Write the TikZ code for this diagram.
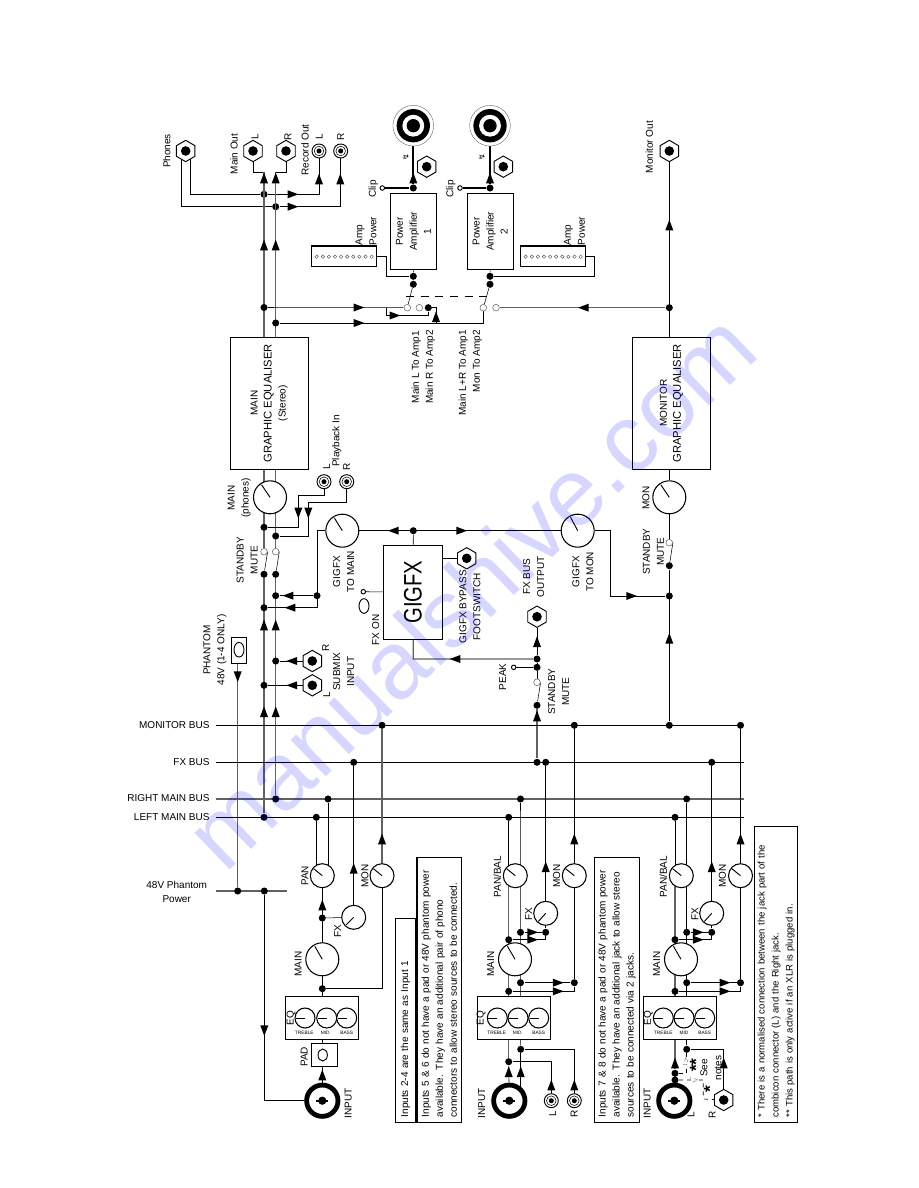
\documentclass[tikz,border=0pt]{standalone}
\usepackage{fontspec}
\setmainfont{Liberation Sans}
\newfontfamily\symfont{DejaVu Sans}
\usetikzlibrary{shapes.geometric,backgrounds,calc}

\tikzset{
    lbl/.style={rotate=90, align=center, inner sep=0},
    hlbl/.style={align=center, inner sep=0},
    bx/.style={rectangle, draw, fill=white, align=center, inner sep=0, line width=.8pt},
    rbx/.style={bx, rotate=90},
    notebox/.style={rotate=90, draw, align=left, inner xsep=3.75pt, inner ysep=0, line width=.8pt},
    dot/.style={circle, fill=black, inner sep=0, minimum size=5.3pt},
    opn/.style={circle, draw=black!60, fill=white, line width=.4pt, inner sep=0, minimum size=5pt},
    pinh/.style={circle, draw, fill=white, inner sep=0, minimum size=3.4pt},
    led/.style={circle, draw=black!70, line width=.3pt, fill=white, inner sep=0, minimum size=2.6pt},
    oval/.style={ellipse, draw, inner sep=0, minimum width=7.5pt, minimum height=11pt},
    knob/.style 2 args={circle, draw, fill=white, inner sep=0, minimum size=#1, line width=.8pt,
        path picture={\draw[line width=.7pt] (path picture bounding box.center) -- +(#2:.46*#1);}},
    bigknob/.style={knob={24.75pt}{#1}},
    midknob/.style={knob={18pt}{#1}},
    eqknob/.style={knob={15pt}{180}},
    jack/.style={regular polygon, regular polygon sides=6, shape border rotate=30, draw, fill=white,
        inner sep=0, minimum size=16pt, line width=.7pt,
        path picture={\fill[black] (path picture bounding box.center) circle (3.6pt);}},
    phono/.style={circle, draw, fill=white, inner sep=0, minimum size=10.5pt, line width=.7pt,
        path picture={\draw[line width=.4pt] (path picture bounding box.center) circle (3.6pt);
            \fill[black] (path picture bounding box.center) circle (1.9pt);}},
    combi/.style={circle, draw, fill=white, inner sep=0, minimum size=23.5pt, line width=3.6pt,
        path picture={\fill[black] (path picture bounding box.center) circle (3.1pt);
            \fill[black] ($(path picture bounding box.center)+(-4.6pt,-.9pt)$) rectangle ++(9.2pt,1.8pt);}},
    speakon/.style={circle, draw=black!60, fill=white, inner sep=0, minimum size=30.5pt, line width=.3pt,
        path picture={\fill[black] (path picture bounding box.center) circle (12.5pt);
            \fill[white] (path picture bounding box.center) circle (8.2pt);
            \fill[black] (path picture bounding box.center) circle (5pt);}},
    bus/.style={draw=black!62, line width=1.1pt},
    heavy/.style={line width=1.5pt},
    tip/.pic={\fill (4pt,0pt) -- (-4pt,3pt) -- (-4pt,-3pt) -- cycle;},
    tri/.style={isosceles triangle, isosceles triangle apex angle=40, draw=black!50, dashed, fill=white,
        line width=.4pt, inner sep=1.2pt}
}

\begin{document}
\begin{tikzpicture}[x=.75pt, y=-.75pt, line width=.7pt, font=\fontsize{7.5}{10.5}\selectfont]
    \useasboundingbox (0,0) rectangle (918,1188);

    % outputs
    \node [jack] (phones) at (185.7,151) {};
    \node [jack] (mainoutl) at (253,151) {};
    \node [jack] (mainoutr) at (286,151) {};
    \node [phono] (recl) at (319,151) {};
    \node [phono] (recr) at (340.7,151) {};
    \node [jack] (monout) at (669.3,151) {};
    \node [lbl] (tphones) at (166.7,151) {Phones};
    \node [lbl] (tmainout) at (234,154) {Main Out};
    \node [lbl] (tmoutl) at (255,137) {L};
    \node [lbl] (tmoutr) at (288,137) {R};
    \node [lbl] (trecord) at (305,150) {Record Out};
    \node [lbl] (trecl) at (319.3,137) {L};
    \node [lbl] (trecr) at (340.7,137) {R};
    \node [lbl] (tmonout) at (649.3,147) {Monitor Out};

    % power amplifiers
    \node [rbx, minimum width=57pt, minimum height=34.8pt] (amp1) at (413.5,231.3) {Power\\Amplifier\\1};
    \node [rbx, minimum width=57pt, minimum height=34.8pt] (amp2) at (490.3,231.3) {Power\\Amplifier\\2};
    \node [speakon] (spk1) at (413.3,125.7) {};
    \node [speakon] (spk2) at (490,125.7) {};
    \node [jack] (spj1) at (426.7,166.7) {};
    \node [jack] (spj2) at (503.3,166.7) {};
    \node [lbl, font=\symfont\fontsize{6}{6}\selectfont] (bolt1) at (405.7,157) {↯};
    \node [lbl, font=\symfont\fontsize{6}{6}\selectfont] (bolt2) at (481.7,157) {↯};
    \node [dot] (ampd1) at (413.3,188) {};
    \node [dot] (ampd2) at (490,188) {};
    \node [pinh] (clip1) at (382.3,188) {};
    \node [pinh] (clip2) at (460,188) {};
    \node [lbl] (tclip1) at (373.3,189) {Clip};
    \node [lbl] (tclip2) at (450.7,189) {Clip};
    \node [dot] (ampf1) at (413.3,276.3) {};
    \node [dot] (ampf2) at (490,276.3) {};
    \node [dot] (ampg1) at (413.3,284.3) {};
    \node [dot] (ampg2) at (490,284.3) {};
    \node [bx, minimum width=48.75pt, minimum height=15.5pt] (pow1) at (344.2,256.3) {};
    \node [bx, minimum width=48.75pt, minimum height=15.5pt] (pow2) at (553.2,256.3) {};
    \foreach \i in {0,...,9} {
        \node [led] (led1\i) at ({316.7+\i*6.1},256.7) {};
        \node [led] (led2\i) at ({525.7+\i*6.1},256.7) {};
    }
    \node [lbl, align=left] (tpow1) at (366,231) {Amp\\Power};
    \node [lbl, align=left] (tpow2) at (574.5,231) {Amp\\Power};
    \node [opn] (opa1) at (407.3,307.7) {};
    \node [opn] (opa2) at (419.3,307.7) {};
    \node [opn] (opb1) at (483.3,307.7) {};
    \node [opn] (opb2) at (496,307.7) {};
    \node [dot] (ampr) at (428.3,307.7) {};
    \node [lbl] (trout1) at (423.3,367) {Main L To Amp1\\Main R To Amp2};
    \node [lbl, align=right] (trout2) at (470.3,373) {Main L+R To Amp1\\Mon To Amp2};

    % graphic equalisers
    \node [rbx, minimum width=99.2pt, minimum height=58.5pt] (maineq) at (269.3,403.2)
        {MAIN\\{\fontsize{8.4}{10.5}\selectfont GRAPHIC EQUALISER}\\(Stereo)};
    \node [rbx, minimum width=99.2pt, minimum height=58.2pt] (moneq) at (671.5,403.2)
        {MONITOR\\{\fontsize{8.4}{10.5}\selectfont GRAPHIC EQUALISER}};

    % main strip
    \node [bigknob=124] (maink) at (270,497.3) {};
    \node [lbl] (tmaink) at (239.2,498) {MAIN\\(phones)};
    \node [phono] (pbl) at (324,481.7) {};
    \node [phono] (pbr) at (346.7,481.7) {};
    \node [lbl] (tpbl) at (326.7,467) {L};
    \node [lbl] (tpbr) at (346.7,467) {R};
    \node [lbl] (tpb) at (336.7,441) {Playback In};
    \node [dot] (lbm) at (264,527.3) {};
    \node [dot] (rbm) at (275.7,536) {};
    \node [opn] (swlo) at (264,551.7) {};
    \node [opn] (swro) at (275.7,551.7) {};
    \node [dot] (swld) at (264,574.3) {};
    \node [dot] (swrd) at (275.7,574.3) {};
    \node [lbl] (tsw) at (247.2,560) {STANDBY\\MUTE};
    \node [dot] (rbi) at (275.7,595.7) {};
    \node [dot] (lbi) at (264,607.7) {};
    \node [dot] (gd) at (317,595.7) {};
    \node [dot] (rbs) at (275.7,661) {};
    \node [dot] (lbs) at (264,685.3) {};
    \node [jack] (subr) at (312.3,661) {};
    \node [jack] (subl) at (312.3,685.3) {};
    \node [lbl] (tsubr) at (325.7,648) {R};
    \node [lbl] (tsubl) at (326.7,695) {L};
    \node [lbl] (tsub) at (343.7,671.7) {SUBMIX\\INPUT};
    \node [rbx, minimum width=19.5pt, minimum height=11.25pt] (phbox) at (239.2,650.3) {};
    \node [oval, rotate=0] (phled) at (239,649.7) {};
    \node [lbl] (tph) at (215,650) {PHANTOM\\48V (1-4 ONLY)};

    % gigfx
    \node [rbx, minimum width=70.7pt, minimum height=44.55pt] (gigfx) at (413,592.2)
        {\fontsize{19}{19}\selectfont\scalebox{.8}[1]{GIGFX}};
    \node [bigknob=122] (gmain) at (342.3,530.7) {};
    \node [bigknob=118] (gmon) at (577.7,530.7) {};
    \node [lbl] (tgmain) at (343.7,571.7) {GIGFX\\TO MAIN};
    \node [lbl] (tgmon) at (582.8,571.7) {GIGFX\\TO MON};
    \node [dot] (gt) at (413.3,530.7) {};
    \node [pinh] (fxon) at (363.3,591.7) {};
    \node [oval] (fxled) at (364,606) {};
    \node [lbl] (tfxon) at (375.7,630) {FX ON};
    \node [jack] (foot) at (466.7,558.3) {};
    \node [lbl] (tfoot) at (470,606.7) {GIGFX BYPASS\\FOOTSWITCH};
    \node [jack] (fxout) at (537,616.7) {};
    \node [lbl] (tfxout) at (533.7,576.7) {FX BUS\\OUTPUT};
    \node [dot] (fxd) at (537,659) {};
    \node [dot] (pk) at (537,667.3) {};
    \node [pinh] (pkpin) at (513.7,667.3) {};
    \node [lbl] (tpk) at (502.7,676.7) {PEAK};
    \node [opn] (fxo) at (537,682.3) {};
    \node [dot] (fxsw) at (537,705.3) {};
    \node [lbl] (tfxsw) at (558.7,691.7) {STANDBY\\MUTE};

    % monitor strip
    \node [bigknob=124] (monk) at (669.3,497.3) {};
    \node [lbl] (tmonk) at (646,497.7) {MON};
    \node [opn] (mono) at (669.3,542.7) {};
    \node [dot] (monsw) at (669.3,565.7) {};
    \node [lbl] (tmonsw) at (653.3,551.7) {STANDBY\\MUTE};
    \node [dot] (monj) at (669.3,596) {};
    \node [dot] (mond) at (669.3,307.7) {};

    % buses
    \coordinate (mbs) at (215.7,725.3);
    \coordinate (mbe) at (744,725.3);
    \coordinate (fbs) at (215.7,762.3);
    \coordinate (fbe) at (744,762.3);
    \coordinate (rbs2) at (215.7,799);
    \coordinate (rbe) at (744,799);
    \coordinate (lbs2) at (215.7,817.3);
    \coordinate (lbe) at (744,817.3);
    \node [hlbl, anchor=east] (tmb) at (210,725.3) {MONITOR BUS};
    \node [hlbl, anchor=east] (tfb) at (210,762.3) {FX BUS};
    \node [hlbl, anchor=east] (trb) at (210,798.3) {RIGHT MAIN BUS};
    \node [hlbl, anchor=east] (tlb) at (210,817) {LEFT MAIN BUS};
    \node [dot] (mb1) at (382,725.3) {};
    \node [dot] (mb2) at (574.3,725.3) {};
    \node [dot] (mb3) at (669.3,725.3) {};
    \node [dot] (mb4) at (740.5,725.3) {};
    \node [dot] (fb1) at (353.7,762.3) {};
    \node [dot] (fb2) at (537,762.3) {};
    \node [dot] (fb3) at (545.7,762.3) {};
    \node [dot] (fb4) at (711.7,762.3) {};
    \node [dot] (rb0) at (275.7,799) {};
    \node [dot] (rc1) at (328,799) {};
    \node [dot] (rc2) at (520.5,799) {};
    \node [dot] (rc3) at (686.7,799) {};
    \node [dot] (lb0) at (264,817.3) {};
    \node [dot] (lc1) at (316.3,817.3) {};
    \node [dot] (lc2) at (508.7,817.3) {};
    \node [dot] (lc3) at (675,817.3) {};
    \node [hlbl] (tphan) at (176.7,891.7) {48V Phantom\\Power};
    \coordinate (phs) at (215.7,891);
    \coordinate (phe) at (286.7,891);
    \node [dot] (ph1) at (237.7,891) {};
    \node [dot] (ph2) at (264.3,891) {};

    % input 1
    \node [midknob=141] (pan1) at (322.3,875.7) {};
    \node [lbl] (tpan1) at (305,876) {PAN};
    \node [midknob=141] (mon1) at (382,875.7) {};
    \node [lbl] (tmon1) at (365,876) {MON};
    \node [midknob=225] (fx1) at (353.7,917.3) {};
    \node [lbl] (tfx1) at (337.7,931) {FX};
    \node [dot] (fd1) at (322.3,918) {};
    \node [bigknob=120] (main1) at (322.3,959.3) {};
    \node [lbl] (tmain1) at (298.3,964) {MAIN};
    \node [dot] (md1) at (322.3,988.7) {};
    \node [bx, minimum width=54.5pt, minimum height=32pt] (eq1) at (322,1018) {};
    \node [eqknob] (tr1) at (305,1018) {};
    \node [eqknob] (mi1) at (326.7,1018) {};
    \node [eqknob] (ba1) at (346.7,1018) {};
    \node [lbl] (teq1) at (291,1018) {EQ};
    \node [hlbl, font=\fontsize{3.6}{4}\selectfont] (ttr1) at (304.3,1033.3) {TREBLE};
    \node [hlbl, font=\fontsize{3.6}{4}\selectfont] (tmi1) at (325.3,1033.3) {MID};
    \node [hlbl, font=\fontsize{3.6}{4}\selectfont] (tba1) at (346.7,1033.3) {BASS};
    \node [bx, minimum width=19.2pt, minimum height=17pt] (pad1) at (324.5,1054.7) {};
    \node [oval, minimum width=7pt, minimum height=9pt] (padled) at (322.7,1055) {};
    \node [lbl] (tpad1) at (304.3,1057) {PAD};
    \node [combi] (input1) at (322.3,1100.7) {};
    \node [lbl] (tinput1) at (348.3,1103) {INPUT};

    % notes
    \node [notebox, minimum height=15.3pt, text width=145.2pt] (note1) at (405.5,1020.5)
        {Inputs 2-4 are the same as Input 1};
    \node [notebox, minimum height=33.5pt, text width=191.25pt] (note2) at (439.3,989.8)
        {Inputs 5 \& 6 do not have a pad or 48V phantom power\\available. They have an additional pair of phono\\connectors to allow stereo sources to be connected.};
    \node [notebox, minimum height=33.5pt, text width=191.25pt] (note3) at (617,989.8)
        {Inputs 7 \& 8 do not have a pad or 48V phantom power\\available. They have an additional jack to allow stereo\\sources to be connected via 2 jacks.};
    \node [notebox, minimum height=32.25pt, text width=214.2pt, font=\fontsize{7.15}{10.5}\selectfont] (note4) at (776.2,974.5)
        {* There is a normalised connection between the jack part of the\\combicon connector (L) and the Right jack.\\{}** This path is only active if an XLR is plugged in.};

    % inputs 5 and 6
    \node [midknob=141] (pan2) at (515.3,875.7) {};
    \node [lbl] (tpan2) at (497.3,876.7) {PAN/BAL};
    \node [midknob=141] (mon2) at (574.3,875.7) {};
    \node [lbl] (tmon2) at (556.7,876) {MON};
    \node [midknob=228] (fx2) at (545.7,913.3) {};
    \node [lbl] (tfx2) at (528.7,914.3) {FX};
    \node [dot] (fd2) at (545.7,932.3) {};
    \node [dot] (r2f) at (520.5,932.3) {};
    \node [dot] (l2f) at (508.7,939.7) {};
    \node [bigknob=120] (main2) at (515,959.3) {};
    \node [lbl] (tmain2) at (490.7,964) {MAIN};
    \node [dot] (r2m) at (520.5,982.7) {};
    \node [dot] (md2) at (574.3,982.7) {};
    \node [dot] (l2m) at (508.7,991.3) {};
    \node [bx, minimum width=54.5pt, minimum height=32pt] (eq2) at (513.8,1018) {};
    \node [eqknob] (tr2) at (497.3,1018) {};
    \node [eqknob] (mi2) at (518,1018) {};
    \node [eqknob] (ba2) at (538.7,1018) {};
    \node [lbl] (teq2) at (481,1018) {EQ};
    \node [hlbl, font=\fontsize{3.6}{4}\selectfont] (ttr2) at (496.7,1033.3) {TREBLE};
    \node [hlbl, font=\fontsize{3.6}{4}\selectfont] (tmi2) at (517.3,1033.3) {MID};
    \node [hlbl, font=\fontsize{3.6}{4}\selectfont] (tba2) at (538.7,1033.3) {BASS};
    \node [dot] (r2i) at (520.7,1049.3) {};
    \node [dot] (l2i) at (508.7,1061.7) {};
    \coordinate (r2x) at (520.7,1087);
    \node [combi] (input2) at (509.3,1100.7) {};
    \node [lbl] (tinput2) at (481.7,1103) {INPUT};
    \node [phono] (phl2) at (551.3,1100.7) {};
    \node [phono] (phr2) at (574.3,1100.7) {};
    \node [lbl] (tphl2) at (552.7,1114) {L};
    \node [lbl] (tphr2) at (574.3,1114) {R};

    % inputs 7 and 8
    \node [midknob=141] (pan3) at (681.3,875.7) {};
    \node [lbl] (tpan3) at (663.3,876.7) {PAN/BAL};
    \node [midknob=141] (mon3) at (740.5,875.7) {};
    \node [lbl] (tmon3) at (722.3,876) {MON};
    \node [midknob=228] (fx3) at (711.7,913.3) {};
    \node [lbl] (tfx3) at (695,914.3) {FX};
    \node [dot] (fd3) at (711.7,932.3) {};
    \node [dot] (r3f) at (686.7,932.3) {};
    \node [dot] (l3f) at (675,939.7) {};
    \node [bigknob=120] (main3) at (681,959.3) {};
    \node [lbl] (tmain3) at (656.7,964) {MAIN};
    \node [dot] (r3m) at (686.7,982.7) {};
    \node [dot] (md3) at (740.5,982.7) {};
    \node [dot] (l3m) at (675,991.3) {};
    \node [bx, minimum width=54.5pt, minimum height=32pt] (eq3) at (679.8,1018) {};
    \node [eqknob] (tr3) at (663.3,1018) {};
    \node [eqknob] (mi3) at (684,1018) {};
    \node [eqknob] (ba3) at (704.7,1018) {};
    \node [lbl] (teq3) at (648.3,1018) {EQ};
    \node [hlbl, font=\fontsize{3.6}{4}\selectfont] (ttr3) at (663.3,1033.3) {TREBLE};
    \node [hlbl, font=\fontsize{3.6}{4}\selectfont] (tmi3) at (684,1033.3) {MID};
    \node [hlbl, font=\fontsize{3.6}{4}\selectfont] (tba3) at (704.7,1033.3) {BASS};
    \node [dot] (r3i) at (686.7,1049.3) {};
    \node [dot] (l3j) at (675,1073.3) {};
    \node [dot] (l3k) at (675,1080) {};
    \node [combi] (input3) at (674.3,1100.7) {};
    \node [lbl] (tinput3) at (647.3,1103) {INPUT};
    \node [jack] (jr3) at (723.7,1100) {};
    \node [lbl] (tl3) at (691,1115) {L};
    \node [lbl] (tr3t) at (712.3,1115) {R};
    \node [tri, shape border rotate=90] (sw3a) at (686,1063) {};
    \node [tri] (sw3b) at (692,1080) {};
    \coordinate (d3a) at (686.7,1073.3);
    \coordinate (d3b) at (703.3,1080);
    \coordinate (d3c) at (703.3,1099);
    \node [lbl, font=\bfseries\fontsize{13}{13}\selectfont] (tst2) at (696,1065) {**};
    \node [lbl, font=\bfseries\fontsize{13}{13}\selectfont] (tst1) at (710,1089) {*};
    \node [lbl] (tsee) at (711,1068) {See\\notes};

    \begin{scope}[on background layer]
        % outputs
        \coordinate (pha) at (190.3,158);
        \coordinate (phb) at (181.7,158);
        \coordinate (lbtop) at (264,172);
        \coordinate (rbtop) at (275.7,172);
        \node [dot] (da) at (264,194.3) {};
        \node [dot] (db) at (275.7,206.7) {};
        \draw (pha) |- (da) -| (recl);
        \draw (phb) |- (db) -| (recr);
        \draw (mainoutl) |- (lbtop);
        \draw (mainoutr) |- (rbtop);
        \draw [bus] (lbtop) -- (swlo);
        \draw [bus] (rbtop) -- (swro);
        \draw [bus] (swld) -- (lb0);
        \draw [bus] (swrd) -- (rb0);
        \draw (swld) -- (swlo.east);
        \draw (swrd) -- (swro.east);
        % amps
        \node [dot] (lb1) at (264,307.5) {};
        \node [dot] (rb1) at (275.7,323) {};
        \draw (lb1) -- (opa1);
        \draw (rb1) -| (opb1);
        \coordinate (lpa) at (386.7,307.5);
        \coordinate (lpb) at (386.7,315.5);
        \coordinate (lpc) at (428.3,315.5);
        \draw (lpa) -- (lpb) -- (lpc) -- (ampr);
        \coordinate (rta) at (436,307.7);
        \coordinate (rtb) at (436,323);
        \draw (ampr) -- (rta) -- (rtb);
        \draw [heavy] (spk1) -- (ampd1);
        \draw [heavy] (spk2) -- (ampd2);
        \draw [heavy] (clip1) -- (ampd1);
        \draw [heavy] (clip2) -- (ampd2);
        \draw (amp1) -- (ampf1) -- (ampg1) -- (opa1);
        \draw (amp2) -- (ampf2) -- (ampg2) -- (opb1);
        \coordinate (pc1) at (386.7,276.3);
        \coordinate (pc2) at (594.3,276.3);
        \draw (pow1.east) -| (pc1) -- (ampf1);
        \draw (pow2.east) -| (pc2) -- (ampf2);
        \coordinate (gang1) at (406,296.7);
        \coordinate (gang2) at (491.7,296.7);
        \draw [dashed, dash pattern=on 6pt off 5pt] (gang1) -- (gang2);
        \draw [bus] (opb2) -- (mond);
        \draw (monout) -- (monk);
        % main strip
        \coordinate (pbc1) at (298.3,495.3);
        \coordinate (pbc2) at (308.3,502.3);
        \draw (lbm) -| (pbc1) -| (pbl);
        \draw (rbm) -| (pbc2) -| (pbr);
        \coordinate (gc1) at (317,607.7);
        \draw (gmain) -| (gc1) -- (lbi);
        \draw (gd) -- (rbi);
        \draw (rbs) -- (subr);
        \draw (lbs) -- (subl);
        \draw [bus] (phbox -| ph1) -- (ph1);
        % gigfx
        \draw (gmain) -- (gmon);
        \draw (gt) -- (gigfx);
        \draw (fxon) -- (gigfx);
        \draw (foot) -- (foot -| gigfx);
        \coordinate (gb) at (413.3,659);
        \draw [bus, line width=.9pt] (gigfx) -- (gb) -- (fxd);
        \coordinate (gm2) at (610.7,596);
        \draw (gmon) -| (gm2) -- (monj);
        \draw (fxout) -- (fxd) -- (pk) -- (fxo);
        \draw (pk) -- (pkpin);
        \draw [bus] (fxsw) -- (fb2);
        \draw (fxsw) -- (fxo.east);
        % monitor strip
        \draw (monk) -- (mono);
        \draw (monsw) -- (mono.east);
        \draw (monsw) -- (mb3);
        % buses
        \draw (mbs) -- (mbe);
        \draw (fbs) -- (fbe);
        \draw [bus, line width=1.3pt] (rbs2) -- (rbe);
        \draw (lbs2) -- (lbe);
        \draw [bus] (phs) -- (phe);
        \draw (ph2) |- (input1);
        % input 1
        \draw (lc1) -- (lc1 |- pan1);
        \draw (rc1) -- (rc1 |- pan1);
        \draw (pan1) -- (input1);
        \draw (fd1) -- (fx1);
        \draw (fx1) -- (fb1);
        \draw (md1) -| (mon1);
        \draw [bus] (mon1) -- (mb1);
        % inputs 5 and 6
        \draw (lc2) -- (lc2 |- pan2);
        \draw [bus] (lc2 |- pan2) -- (l2i);
        \draw (rc2) -- (r2i);
        \draw (r2i) -- (r2x);
        \draw (r2f) -- (fd2);
        \draw (l2f) -| (fd2);
        \draw (fx2) -- (fd2);
        \draw (fx2) -- (fb3);
        \draw (r2m) -- (md2);
        \draw (l2m) -| (md2);
        \draw (mon2) -- (md2);
        \draw (mon2) -- (mb2);
        \draw (l2i) -- (input2);
        \draw (l2i) -| (phl2);
        \draw (r2i) -| (phr2);
        % inputs 7 and 8
        \draw (lc3) -- (lc3 |- pan3);
        \draw [bus] (lc3 |- pan3) -- (l3j);
        \draw (l3j) -- (l3k) -- (input3);
        \draw (rc3) -- (r3i);
        \draw (r3f) -- (fd3);
        \draw (l3f) -| (fd3);
        \draw (fx3) -- (fd3);
        \draw (fx3) -- (fb4);
        \draw (r3m) -- (md3);
        \draw (l3m) -| (md3);
        \draw (mon3) -- (md3);
        \draw (mon3) -- (mb4);
        \draw (r3i) -| (jr3);
        \draw [dashed, line width=.5pt] (r3i) -- (d3a) -- (l3j);
        \draw [dashed, line width=.5pt] (l3k) -- (sw3b) -- (d3b) -- (d3c) -- (jr3);
    \end{scope}

    % arrowheads
    \foreach \p in {(264,178),(275.7,178),(319,179),(340.3,179),(264,245),(275.7,245),(669.3,225),
        (413.3,178),(490,178),(436,316.7),(264,625),(275.7,625),(264,711.7),(275.7,711.7),
        (537,641.7),(537,716),(669.3,638.3),(322.3,905),(353.7,868.3),(382,839),(322.3,1075),
        (545.7,866.7),(574.3,839),(508.7,1071.7),(520.7,1071.7),(551.3,1085),(574.3,1085),
        (711.7,866.7),(740.5,839),(675,1063),(723.7,1063)}
        \pic [rotate=90] at \p {tip};
    \foreach \p in {(293,194.3),(293,206.7),(359,307.5),(359,323),(395,315.5),(461.7,530.7),
        (631.7,596),(532.7,932.3),(532.7,939.7),(558.3,982.7),(558.3,991.3),(698.3,932.3),
        (698.3,939.7),(725,982.7),(725,991.3)}
        \pic at \p {tip};
    \foreach \p in {(583.3,307.7),(393.3,530.7),(290,607.7),(288,595.7),(291.7,661),(291.7,685.3),(455,659)}
        \pic [rotate=180] at \p {tip};
    \foreach \p in {(298.3,513),(308.3,513),(237.7,676.7),(264.3,1030.7)}
        \pic [rotate=-90] at \p {tip};

    \node [rotate=44, text=blue, text opacity=.16, font=\fontsize{72}{72}\selectfont] (wmark) at (470,590) {manualshive.com};
\end{tikzpicture}
\end{document}
